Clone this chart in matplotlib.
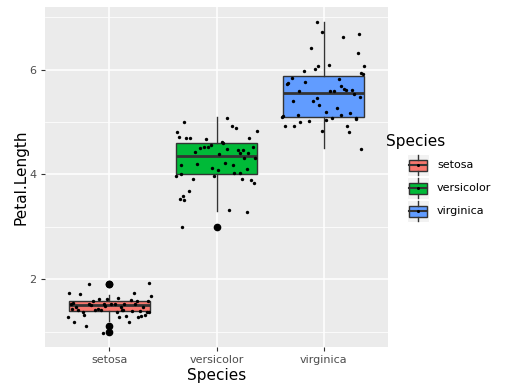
import matplotlib
matplotlib.use("Agg")
import matplotlib.pyplot as plt
from matplotlib.patches import Rectangle

species = ["setosa", "versicolor", "virginica"]
colors = ["#F8766D", "#00BA38", "#619CFF"]

setosa = [1.4, 1.4, 1.3, 1.5, 1.4, 1.7, 1.4, 1.5, 1.4, 1.5, 1.5, 1.6, 1.4, 1.1, 1.2,
          1.5, 1.3, 1.4, 1.7, 1.5, 1.7, 1.5, 1.0, 1.7, 1.9, 1.6, 1.6, 1.5, 1.4, 1.6,
          1.6, 1.5, 1.5, 1.4, 1.5, 1.2, 1.3, 1.4, 1.3, 1.5, 1.3, 1.3, 1.3, 1.6, 1.9,
          1.4, 1.6, 1.4, 1.5, 1.4]
versicolor = [4.7, 4.5, 4.9, 4.0, 4.6, 4.5, 4.7, 3.3, 4.6, 3.9, 3.5, 4.2, 4.0, 4.7, 3.6,
              4.4, 4.5, 4.1, 4.5, 3.9, 4.8, 4.0, 4.9, 4.7, 4.3, 4.4, 4.8, 5.0, 4.5, 3.5,
              3.8, 3.7, 3.9, 5.1, 4.5, 4.5, 4.7, 4.4, 4.1, 4.0, 4.4, 4.6, 4.0, 3.3, 4.2,
              4.2, 4.2, 4.3, 3.0, 4.1]
virginica = [6.0, 5.1, 5.9, 5.6, 5.8, 6.6, 4.5, 6.3, 5.8, 6.1, 5.1, 5.3, 5.5, 5.0, 5.1,
             5.3, 5.5, 6.7, 6.9, 5.0, 5.7, 4.9, 6.7, 4.9, 5.7, 6.0, 4.8, 4.9, 5.6, 5.8,
             6.1, 6.4, 5.6, 5.1, 5.6, 6.1, 5.6, 5.5, 4.8, 5.4, 5.6, 5.1, 5.1, 5.9, 5.7,
             5.2, 5.0, 5.2, 5.4, 5.1]

# jitter offsets
jit_x = [
    [0.12, -0.25, 0.33, -0.05, 0.21, -0.38, 0.07, -0.17, 0.29, -0.31, 0.02, 0.36, -0.11, -0.22, 0.18,
     -0.34, 0.27, -0.08, 0.39, 0.14, -0.27, 0.31, -0.06, 0.23, -0.19, -0.15, 0.08, -0.36, 0.35, -0.02,
     0.26, -0.19, 0.11, -0.29, 0.05, -0.33, 0.16, -0.13, -0.39, 0.24, 0.30, -0.24, 0.09, -0.10, 0.37,
     0.37, 0.20, -0.35, -0.04, 0.13],
    [0.30, -0.12, 0.18, -0.33, 0.05, 0.25, -0.28, 0.12, -0.05, -0.22, -0.34, 0.15, 0.22, -0.35, -0.31,
     -0.20, 0.10, 0.28, -0.08, 0.32, -0.37, -0.02, 0.14, -0.25, 0.36, 0.02, 0.38, -0.30, 0.20, -0.30,
     0.35, -0.26, 0.24, 0.10, -0.15, 0.34, -0.10, 0.22, -0.04, -0.38, 0.29, 0.06, 0.16, 0.28, -0.18,
     0.08, -0.33, 0.26, -0.32, 0.01],
    [-0.08, 0.30, 0.35, -0.23, -0.17, 0.18, 0.35, 0.32, -0.30, 0.05, -0.38, 0.12, 0.28, -0.22, 0.08,
     -0.04, -0.06, -0.02, -0.06, 0.02, 0.16, 0.22, 0.33, -0.28, -0.33, -0.18, 0.24, -0.36, 0.10, 0.14,
     0.38, -0.12, 0.19, -0.39, 0.21, -0.05, 0.26, 0.34, -0.02, -0.29, 0.06, -0.24, 0.30, 0.37, -0.34,
     0.02, -0.14, 0.25, -0.10, 0.16],
]
jit_y = [
    [0.02, -0.03, 0.01, 0.035, -0.01, 0.03, -0.02, 0.015, 0.0, -0.035, 0.025, -0.015, 0.03, 0.01, -0.02,
     0.04, -0.025, 0.005, -0.03, 0.02, 0.01, -0.04, -0.02, 0.03, 0.0, -0.01, 0.035, 0.02, -0.03, 0.015,
     -0.02, 0.025, -0.035, 0.01, 0.03, -0.015, 0.0, 0.02, -0.025, 0.035, -0.01, 0.015, -0.03, 0.025, 0.02,
     -0.02, 0.01, 0.03, -0.005, 0.02],
    [-0.01, 0.03, -0.02, 0.015, 0.025, -0.03, 0.0, 0.02, -0.035, 0.01, 0.03, -0.02, 0.035, 0.015, -0.01,
     0.02, -0.025, 0.005, 0.03, -0.015, 0.01, -0.03, 0.025, -0.005, 0.02, -0.02, 0.035, 0.0, -0.03, 0.015,
     0.03, -0.01, 0.02, -0.025, 0.01, 0.03, -0.02, 0.005, 0.025, -0.035, 0.015, -0.01, 0.03, -0.02, 0.0,
     0.02, -0.03, 0.01, 0.0, -0.015],
    [0.015, -0.02, 0.03, 0.0, -0.03, 0.02, -0.01, 0.025, 0.035, -0.015, 0.01, -0.025, 0.03, 0.005, -0.02,
     0.02, -0.035, 0.01, 0.0, 0.03, -0.01, 0.025, -0.02, 0.015, 0.035, -0.03, 0.0, 0.02, -0.015, 0.03,
     -0.025, 0.01, 0.035, -0.005, 0.02, -0.03, 0.015, -0.02, 0.025, 0.0, -0.01, 0.03, -0.035, 0.01, 0.02,
     -0.015, 0.025, -0.02, 0.005, 0.03],
]

data = [setosa, versicolor, virginica]
edge = "#333333"

fig = plt.figure(figsize=(5.10, 3.89), dpi=100)
ax = fig.add_axes([45 / 510, 42 / 389, 343 / 510, 340 / 389])
ax.set_facecolor("#EBEBEB")

positions = [1, 2, 3]
bp = ax.boxplot(data, positions=positions, widths=0.75, patch_artist=True, zorder=2,
                whis=1.5,
                boxprops=dict(edgecolor=edge, linewidth=1.0),
                whiskerprops=dict(color=edge, linewidth=1.0),
                capprops=dict(linewidth=0),
                medianprops=dict(color=edge, linewidth=2.0),
                flierprops=dict(marker="o", markerfacecolor="black", markeredgecolor="black",
                                markersize=4.5))
for patch, c in zip(bp["boxes"], colors):
    patch.set_facecolor(c)

for i, vals in enumerate(data):
    xs = [positions[i] + dx for dx in jit_x[i]]
    ys = [v + dy for v, dy in zip(vals, jit_y[i])]
    ax.scatter(xs, ys, s=6, color="black", zorder=3, linewidths=0)

ax.set_xlim(0.4, 3.6)
ax.set_ylim(0.705, 7.195)
ax.set_yticks([2, 4, 6])
ax.set_yticks([1, 3, 5, 7], minor=True)
ax.set_xticks(positions)
ax.set_xticklabels(species)
ax.grid(True, which="major", color="white", linewidth=1.1, zorder=0)
ax.grid(True, which="minor", axis="y", color="white", linewidth=0.55, zorder=0)
ax.set_axisbelow(True)
for s in ax.spines.values():
    s.set_visible(False)
ax.tick_params(which="major", length=3, width=0.8, color=edge, labelcolor="#4D4D4D",
               labelsize=8, pad=3)
ax.tick_params(which="minor", length=0)
ax.set_xlabel("Species", fontsize=11, labelpad=2)
ax.set_ylabel("Petal.Length", fontsize=11, labelpad=1)

# legend drawn in figure pixel space
lg = fig.add_axes([0, 0, 1, 1], zorder=5)
lg.set_xlim(0, 510)
lg.set_ylim(389, 0)
lg.axis("off")
lg.text(386, 141, "Species", fontsize=11, va="center", ha="left")
for k, (name, c) in enumerate(zip(species, colors)):
    y0 = 154 + k * 23
    lg.add_patch(Rectangle((407, y0), 22, 22, facecolor="#F2F2F2", edgecolor="white", linewidth=0.8))
    cx, cy = 418, y0 + 11
    lg.plot([cx, cx], [y0 + 1, cy - 5.5], color=edge, linewidth=1.0)
    lg.plot([cx, cx], [cy + 5.5, y0 + 21], color=edge, linewidth=1.0)
    lg.add_patch(Rectangle((409, cy - 5.5), 18, 11, facecolor=c, edgecolor=edge, linewidth=1.0))
    lg.plot([409, 427], [cy, cy], color=edge, linewidth=1.5)
    lg.scatter([cx], [cy], s=5, color="black", linewidths=0, zorder=6)
    lg.text(437, cy, name, fontsize=8, va="center", ha="left")

fig.savefig("out.png", dpi=100)
